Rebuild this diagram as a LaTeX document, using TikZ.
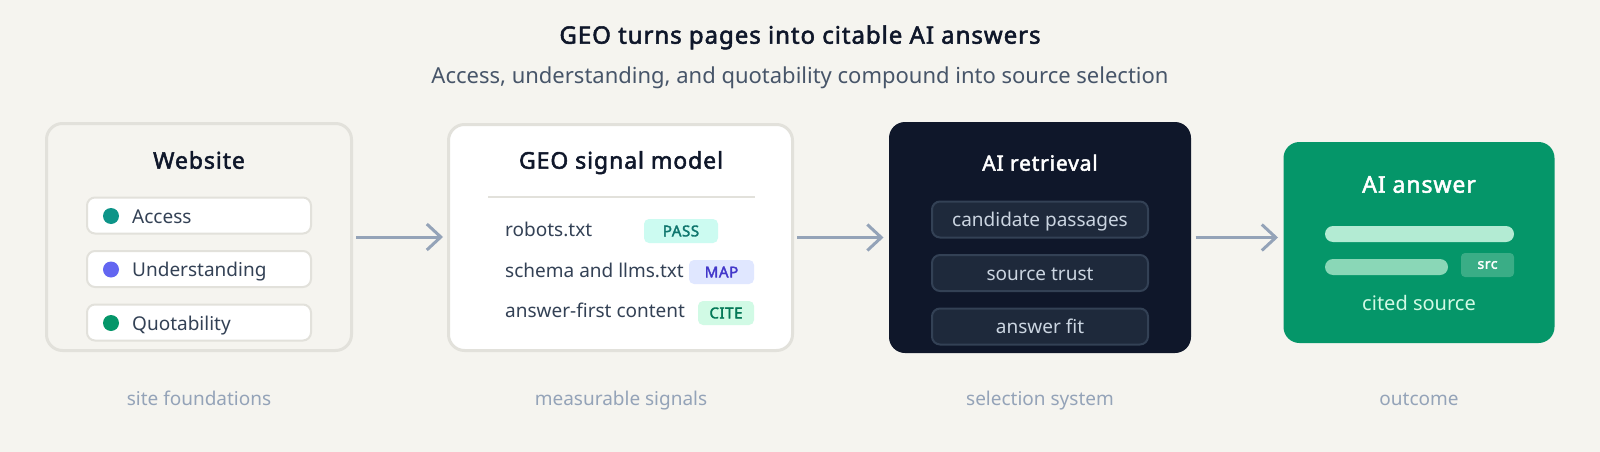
\documentclass[tikz,border=0pt]{standalone}
\usepackage{fontspec}
\setmainfont{Noto Sans}[BoldFont={Noto Sans}, BoldFeatures={FakeBold=2.2, LetterSpace=4}]
\usepackage{xcolor}
\usetikzlibrary{arrows.meta}

\definecolor{paper}{HTML}{F5F4EF}
\definecolor{rim}{HTML}{E2E1DB}
\definecolor{ink}{HTML}{0F172A}
\definecolor{slate}{HTML}{475569}
\definecolor{body}{HTML}{334155}
\definecolor{muted}{HTML}{94A3B8}
\definecolor{teal}{HTML}{0D9488}
\definecolor{indigo}{HTML}{6366F1}
\definecolor{emerald}{HTML}{059669}
\definecolor{night}{HTML}{0F172A}
\definecolor{nightpill}{HTML}{1E293B}
\definecolor{nightrim}{HTML}{334155}
\definecolor{nighttext}{HTML}{CBD5E1}
\definecolor{passbg}{HTML}{CCFBF1}
\definecolor{passfg}{HTML}{0F766E}
\definecolor{mapbg}{HTML}{E0E7FF}
\definecolor{mapfg}{HTML}{4338CA}
\definecolor{citebg}{HTML}{D1FAE5}
\definecolor{citefg}{HTML}{047857}
\definecolor{barone}{HTML}{B3EBD3}
\definecolor{bartwo}{HTML}{8AD7B7}
\definecolor{srcbg}{HTML}{3AAD86}

\newcommand{\fs}[1]{\fontsize{#1}{#1}\selectfont}

\begin{document}
\begin{tikzpicture}[x=1pt,y=-1pt]
\tikzstyle{panel}=[rectangle, rounded corners=16pt, line width=3pt, inner sep=0pt]
\tikzstyle{pill}=[rectangle, rounded corners=8pt, line width=2pt, minimum height=36pt, inner sep=0pt]
\tikzstyle{darkpill}=[pill, fill=nightpill, draw=nightrim, minimum width=216pt, font=\fs{19}, text=nighttext, text height=14pt, text depth=0pt]
\tikzstyle{badge}=[rectangle, rounded corners=5pt, minimum height=24pt, inner sep=0pt, font=\fs{15}\bfseries]
\tikzstyle{dot}=[circle, minimum size=16pt, inner sep=0pt]
\tikzstyle{flow}=[draw=muted, line width=3pt, shorten <=3pt, shorten >=4pt, -{Straight Barb[length=14pt,width=26pt]}]
\tikzstyle{bar}=[rectangle, rounded corners=8pt, minimum height=16pt, inner sep=0pt]

\fill[paper] (0,0) rectangle (1600,452);

\node[font=\fs{24}\bfseries, color=ink, anchor=mid] (title) at (800,41) {GEO turns pages into citable AI answers};
\node[font=\fs{22}, color=slate, anchor=mid] (subtitle) at (800,81) {Access, understanding, and quotability compound into source selection};

\node[panel, fill=paper, draw=rim, minimum width=305pt, minimum height=227pt] (website) at (199,237) {};
\node[font=\fs{23}\bfseries, color=ink, anchor=mid] (websitehead) at (199,166) {Website};
\node[pill, fill=white, draw=rim, minimum width=224pt] (accesspill) at (199,215.5) {};
\node[pill, fill=white, draw=rim, minimum width=224pt] (understandpill) at (199,269) {};
\node[pill, fill=white, draw=rim, minimum width=224pt] (quotepill) at (199,322.5) {};
\node[dot, fill=teal] (accessdot) at (111,216) {};
\node[dot, fill=indigo] (understanddot) at (111,269.5) {};
\node[dot, fill=emerald] (quotedot) at (111,323) {};
\node[font=\fs{19}, color=body, anchor=mid west, inner sep=0pt] (access) at (132,220.5) {Access};
\node[font=\fs{19}, color=body, anchor=mid west, inner sep=0pt] (understand) at (132,274) {Understanding};
\node[font=\fs{19}, color=body, anchor=mid west, inner sep=0pt] (quote) at (132,327.5) {Quotability};

\node[panel, fill=white, draw=rim, minimum width=344pt, minimum height=226pt] (signal) at (620.5,237.5) {};
\node[font=\fs{23}\bfseries, color=ink, anchor=mid] (signalhead) at (621,166) {GEO signal model};
\coordinate (ruleleft) at (488,197);
\coordinate (ruleright) at (755,197);
\draw[rim, line width=2pt] (ruleleft) -- (ruleright);
\node[font=\fs{19}, color=body, anchor=mid west, inner sep=0pt] (robots) at (505,234) {robots.txt};
\node[font=\fs{19}, color=body, anchor=mid west, inner sep=0pt] (schema) at (505,275) {schema and llms.txt};
\node[font=\fs{19}, color=body, anchor=mid west, inner sep=0pt] (content) at (505,315) {answer-first content};
\node[badge, fill=passbg, text=passfg, minimum width=74pt] (pass) at (681,231) {PASS};
\node[badge, fill=mapbg, text=mapfg, minimum width=65pt] (map) at (721.5,272) {MAP};
\node[badge, fill=citebg, text=citefg, minimum width=56pt] (cite) at (726,313) {CITE};

\node[panel, fill=night, minimum width=302pt, minimum height=231pt] (retrieval) at (1040,237.5) {};
\node[font=\fs{21}\bfseries, color=white, anchor=mid] (retrievalhead) at (1040,168) {AI retrieval};
\node[darkpill] (passages) at (1040,219.5) {candidate passages};
\node[darkpill] (trust) at (1040,273) {source trust};
\node[darkpill] (fit) at (1040,326.5) {answer fit};

\node[panel, fill=emerald, minimum width=271pt, minimum height=201pt] (answer) at (1419,242.5) {};
\node[font=\fs{23}\bfseries, color=white, anchor=mid] (answerhead) at (1419,190) {AI answer};
\node[bar, fill=barone, minimum width=189pt] (lineone) at (1419.5,234) {};
\node[bar, fill=bartwo, minimum width=123pt] (linetwo) at (1386.5,267) {};
\node[badge, fill=srcbg, text=white, minimum width=53pt, rounded corners=4pt, font=\fs{14}\bfseries] (src) at (1487.5,265) {src};
\node[font=\fs{20}, color=citebg, anchor=mid] (cited) at (1419,308) {cited source};

\node[font=\fs{19}, color=muted, anchor=mid] (foundations) at (199,403) {site foundations};
\node[font=\fs{19}, color=muted, anchor=mid] (measurable) at (621,403) {measurable signals};
\node[font=\fs{19}, color=muted, anchor=mid] (selection) at (1040,403) {selection system};
\node[font=\fs{19}, color=muted, anchor=mid] (outcome) at (1419,403) {outcome};

\path
(website.east) edge[flow] (website.east -| signal.west)
(signal.east) edge[flow] (signal.east -| retrieval.west)
(retrieval.east) edge[flow] (retrieval.east -| answer.west);
\end{tikzpicture}
\end{document}
